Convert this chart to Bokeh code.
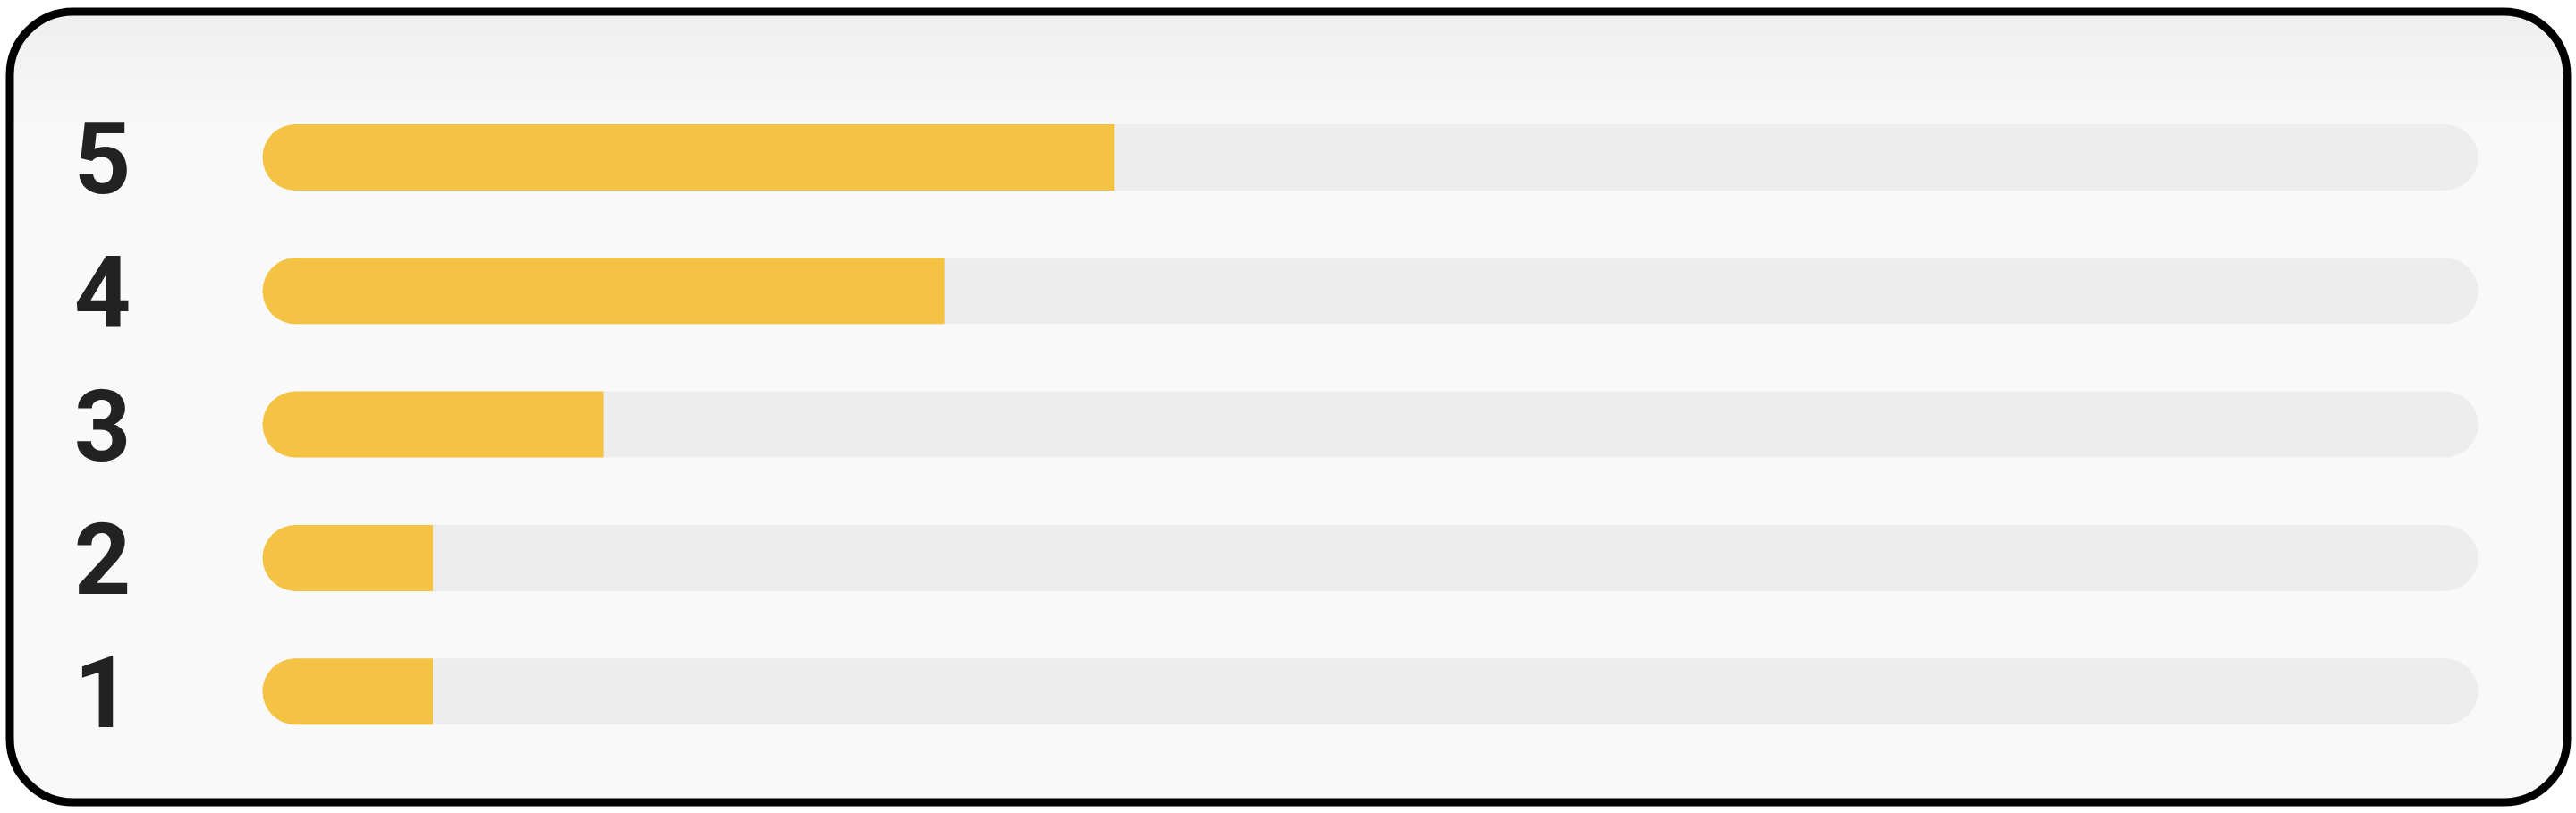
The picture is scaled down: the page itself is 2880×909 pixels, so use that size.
import numpy as np
from bokeh.plotting import figure
from bokeh.models import Range1d, ColumnDataSource
from bokeh.core.properties import value
from bokeh.embed import file_html
from bokeh.resources import INLINE

# ---- data ----
ratings = ["5", "4", "3", "2", "1"]
counts = [5, 4, 2, 1, 1]

total = float(sum(counts))
fractions = [c / total for c in counts]
rows = list(range(len(ratings)))

# ---- layout (page pixels; Bokeh page has no body margin) ----
W, H = 2876, 904
BOX_L, BOX_R, BOX_T, BOX_B = 6, 2874, 8, 901
TRACK_X0 = 293.0
TRACK_W = 2477.0
ROW0 = 175.5
ROW_STEP = 149.3
BAR_PX = 74.0

x_start = -TRACK_X0 / TRACK_W
x_end = (W - TRACK_X0) / TRACK_W
y_top = -ROW0 / ROW_STEP
y_bottom = (H - ROW0) / ROW_STEP

def px_x(px):
    return x_start + px / TRACK_W

def px_y(py):
    return y_top + py / ROW_STEP

p = figure(width=W, height=H, output_backend="svg", toolbar_location=None,
           x_range=Range1d(x_start, x_end), y_range=Range1d(y_bottom, y_top),
           x_axis_location=None, y_axis_location=None, min_border=0)
p.grid.visible = False
p.outline_line_color = None
p.background_fill_color = "white"
p.border_fill_color = "white"

# ---- card ----
LW = 9
R_OUT = 75
box = dict(left=px_x(BOX_L + LW / 2), right=px_x(BOX_R - LW / 2),
           top=px_y(BOX_T + LW / 2), bottom=px_y(BOX_B - LW / 2))
p.quad(**box, fill_color="#f9f9f9", line_color=None, border_radius=R_OUT - LW // 2)

# subtle top gradient
r_in = R_OUT - LW
n = 30
g_top, g_bot = LW, 135
c0, c1 = np.array([0xef, 0xef, 0xef]), np.array([0xf9, 0xf9, 0xf9])
for k in range(n):
    y0 = g_top + (g_bot - g_top) * k / n
    y1 = g_top + (g_bot - g_top) * (k + 1) / n
    ym = (y0 + y1) / 2
    if ym < R_OUT:
        dy = R_OUT - ym
        inset = R_OUT - np.sqrt(max(r_in ** 2 - dy ** 2, 0))
    else:
        inset = LW
    t = k / (n - 1)
    col = (c0 + (c1 - c0) * t).astype(int)
    hexcol = "#%02x%02x%02x" % tuple(col)
    p.quad(left=px_x(BOX_L + inset), right=px_x(BOX_R - inset),
           top=px_y(BOX_T + y0), bottom=px_y(BOX_T + y1 + 0.6),
           fill_color=hexcol, line_color=None)

p.quad(**box, fill_color=None, line_color="black", line_width=LW, border_radius=R_OUT - LW // 2)

# ---- bars ----
src = ColumnDataSource(dict(y=rows, frac=fractions, label=ratings,
                            zero=[0.0] * len(rows), one=[1.0] * len(rows)))
h = BAR_PX / ROW_STEP
rad = int(BAR_PX / 2)
p.hbar(y="y", left="zero", right="one", height=h, source=src,
       fill_color="#ededed", line_color=None, border_radius=rad)
p.hbar(y="y", left="zero", right="frac", height=h, source=src,
       fill_color="#f5c344", line_color=None, border_radius=(rad, 0, 0, rad))

# ---- labels ----
p.text(x="zero", y="y", text="label", source=src, x_offset=-179, y_offset=0,
       text_align="center", text_baseline="alphabetic",
       text_font=value("Roboto"), text_font_style="bold",
       text_font_size="111px", text_color="#222222")

open("out.html", "w").write(file_html(p, INLINE))
